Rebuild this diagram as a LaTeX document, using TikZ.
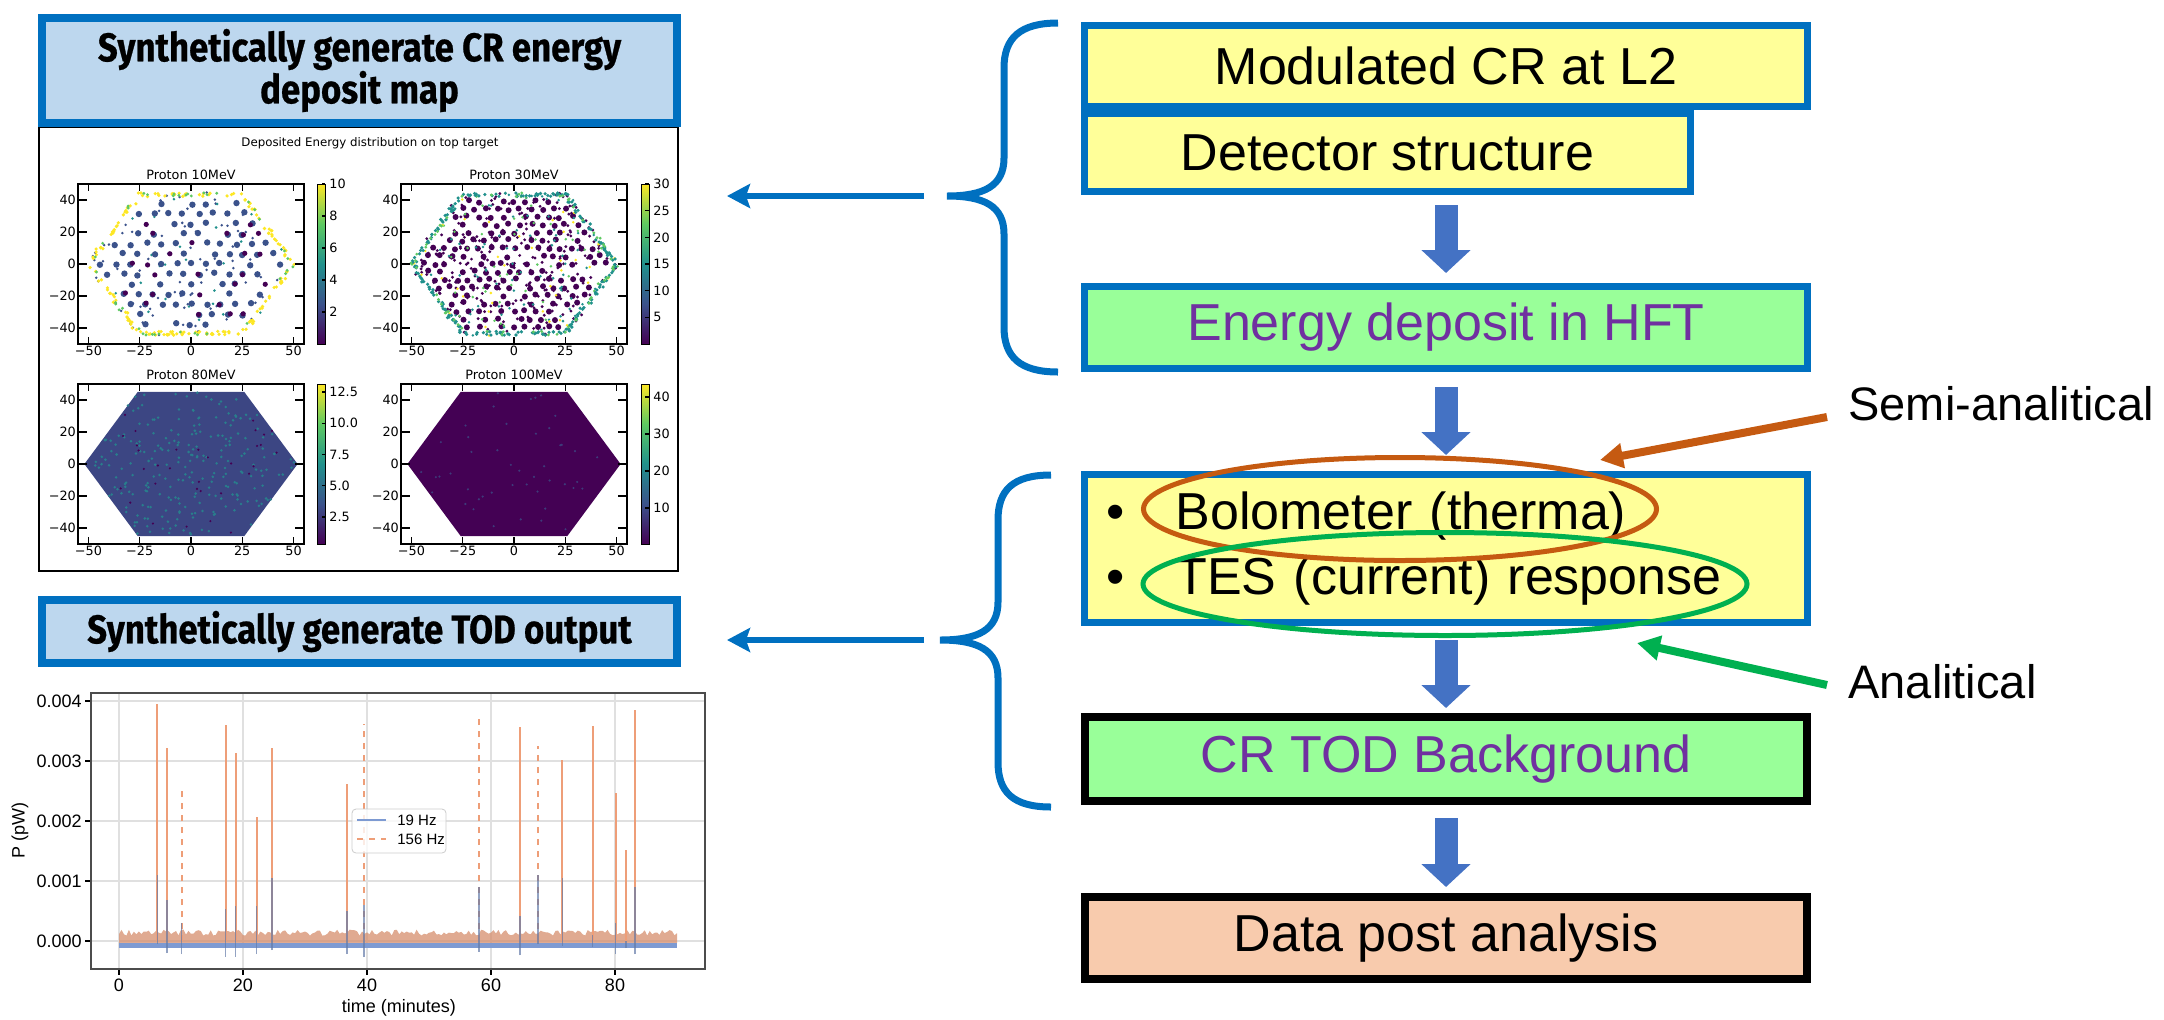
\documentclass[tikz,border=0pt]{standalone}
\usepackage{fontspec}
\setmainfont{Liberation Sans}
\newfontfamily\headfont{Fira Sans}[FakeStretch=0.87, FakeBold=0.6]
\newfontfamily\plotfont{DejaVu Sans}
\usetikzlibrary{arrows.meta, positioning, shapes.geometric, calc}

\definecolor{frameblue}{HTML}{0070C0}
\definecolor{flowblue}{HTML}{4472C4}
\definecolor{boxyellow}{HTML}{FFFF99}
\definecolor{boxgreen}{HTML}{99FF99}
\definecolor{boxpeach}{HTML}{F8CBAD}
\definecolor{labelpurple}{HTML}{7030A0}
\definecolor{semiorange}{HTML}{C55A11}
\definecolor{anagreen}{HTML}{00B050}
\definecolor{titlefill}{HTML}{BDD7EE}
% viridis steps for the maps
\definecolor{vir0}{HTML}{440154}
\definecolor{vir1}{HTML}{3B528B}
\definecolor{vir2}{HTML}{21918C}
\definecolor{vir3}{HTML}{5EC962}
\definecolor{vir4}{HTML}{FDE725}
\definecolor{todblue}{HTML}{7D9AD2}
\definecolor{todorange}{HTML}{EE9E78}

\pgfdeclareverticalshading{viridis}{100bp}{color(0bp)=(vir0); color(25bp)=(vir0);
  color(37.5bp)=(vir1); color(50bp)=(vir2); color(62.5bp)=(vir3); color(75bp)=(vir4); color(100bp)=(vir4)}

% random hits inside the hexagon (count, colour, radius)
\newcommand{\hexdots}[3]{%
  \foreach \k in {1,...,#1}{
    \pgfmathsetmacro\dotx{52*rand}
    \pgfmathsetmacro\doty{45*rand}
    \pgfmathtruncatemacro\inside{abs(\doty)<1.732*(52-abs(\dotx))}
    \ifnum\inside=1 \fill[#2] (\dotx,\doty) circle[radius=#3]; \fi
  }}
% random hits along the hexagon rim
\newcommand{\hexedge}[3]{%
  \foreach \k in {1,...,#1}{
    \pgfmathtruncatemacro\side{random(0,5)}
    \pgfmathsetmacro\along{rnd}
    \pgfmathsetmacro\dotx{(1-\along)*50*cos(60*\side)+\along*50*cos(60*\side+60)+1.2*rand}
    \pgfmathsetmacro\doty{(1-\along)*50*sin(60*\side)+\along*50*sin(60*\side+60)+1.2*rand}
    \fill[#2] (\dotx,\doty) circle[radius=#3];
  }}
% pixel lattice of the focal plane (x step, y step, colour, radius, fill rate)
\newcommand{\hexgrid}[5]{%
  \foreach \i in {-9,...,9}{
    \foreach \j in {-9,...,9}{
      \pgfmathsetmacro\dotx{#1*\i+0.5*#1*mod(abs(\j),2)}
      \pgfmathsetmacro\doty{#2*\j}
      \pgfmathtruncatemacro\inside{(abs(\doty)<43)&&(abs(\doty)<1.732*(49-abs(\dotx)))&&(rnd<#5)}
      \ifnum\inside=1 \fill[#3] (\dotx+0.9*rand,\doty+0.9*rand) circle[radius=#4]; \fi
    }
  }}

\begin{document}
\begin{tikzpicture}[x=0.5pt, y=-0.5pt,
    stagebox/.style={draw=frameblue, line width=3.5pt, fill=boxyellow,
      minimum width=361.5pt, minimum height=40.5pt, inner sep=0pt,
      font=\fontsize{26}{30}\selectfont},
    outbox/.style={stagebox, draw=black, line width=4pt, minimum width=361pt},
    headbox/.style={draw=frameblue, line width=4pt, fill=titlefill, minimum width=317.5pt,
      inner sep=0pt, align=center, font=\headfont\bfseries\fontsize{20}{21}\selectfont},
    flowarrow/.style={draw=flowblue, line width=11.5pt, -{Triangle[width=24pt,length=11.5pt]}},
    pointer/.style={draw=frameblue, line width=3pt, -{Stealth[width=12pt,length=11.5pt,inset=2pt]}},
    bracepath/.style={draw=frameblue, line width=3.5pt},
    ringarrow/.style={line width=4pt, -{Triangle[width=12pt,length=11.5pt]}},
    ring/.style={ellipse, draw, line width=2.5pt, inner sep=0pt},
    sidelabel/.style={font=\fontsize{23.5}{28}\selectfont, anchor=west, inner sep=0pt},
    mpl/.style={font=\plotfont\fontsize{6.4}{7.5}\selectfont, inner sep=1pt},
    tick/.style={line width=0.6pt},
    gridline/.style={draw=black!12, line width=0.8pt},
    todtext/.style={font=\fontsize{9}{10}\selectfont, inner sep=1pt}
  ]
\useasboundingbox (0,0) rectangle (2164,1019);

% --- energy deposit maps ---
\pgfmathsetseed{42}
\draw[line width=1pt] (39,127) rectangle (678,571);
\node[mpl, font=\plotfont\fontsize{5.9}{7}\selectfont] (mapHead) at (370,143) {Deposited Energy distribution on top target};

% Proton 10MeV
\begin{scope}[shift={(191,264)}, x=1.025pt, y=0.8pt]
  \hexdots{110}{vir1}{0.7pt}
  \hexdots{35}{vir2}{0.7pt}
  \hexgrid{7.3}{6.3}{vir1}{1.6pt}{0.72}
  \hexgrid{7.3}{6.3}{vir0}{1.3pt}{0.2}
  \hexedge{170}{vir4}{0.9pt}
  \hexedge{40}{vir3}{0.8pt}
\end{scope}
% Proton 30MeV
\begin{scope}[shift={(514,264)}, x=1.025pt, y=0.8pt]
  \hexdots{300}{vir0}{0.8pt}
  \hexgrid{5.6}{4.9}{vir0}{1.5pt}{0.8}
  \hexdots{110}{vir2}{0.7pt}
  \hexdots{60}{vir3}{0.7pt}
  \hexdots{45}{vir4}{0.7pt}
  \hexedge{220}{vir2}{0.9pt}
  \hexedge{60}{vir3}{0.8pt}
\end{scope}
% Proton 80MeV
\begin{scope}[shift={(191,464)}, x=1.025pt, y=0.8pt]
  \fill[vir1!85!vir0] (0:52) -- (60:52) -- (120:52) -- (180:52) -- (240:52) -- (300:52) -- cycle;
  \hexdots{320}{vir2!70!vir1}{0.7pt}
  \hexdots{40}{vir0}{0.6pt}
\end{scope}
% Proton 100MeV
\begin{scope}[shift={(514,464)}, x=1.025pt, y=0.8pt]
  \fill[vir0] (0:52) -- (60:52) -- (120:52) -- (180:52) -- (240:52) -- (300:52) -- cycle;
  \hexdots{60}{vir1!70!vir0}{0.6pt}
\end{scope}

% axes of the four maps
\foreach \ox/\oy/\ttl in {191/264/Proton 10MeV, 514/264/Proton 30MeV, 191/464/Proton 80MeV, 514/464/Proton 100MeV}{
  \begin{scope}[shift={(\ox,\oy)}, x=1.025pt, y=0.8pt]
    \draw[line width=0.8pt] (-55,-50) rectangle (55,50);
    \foreach \v/\lab in {-50/−50, -25/−25, 0/0, 25/25, 50/50}{
      \draw[tick] (\v,-50) -- (\v,-45.5);
      \draw[tick] (\v,50) -- (\v,45.5);
      \node[mpl, below] at (\v,-50) {\lab};
    }
    \foreach \v/\lab in {-40/−40, -20/−20, 0/0, 20/20, 40/40}{
      \draw[tick] (-55,\v) -- (-50.5,\v);
      \draw[tick] (55,\v) -- (50.5,\v);
      \node[mpl, left] at (-55,\v) {\lab};
    }
    \node[mpl, above=1pt] at (0,50) {\ttl};
  \end{scope}
}

% colour bars
\foreach \cx/\cy in {317/184, 641/184, 317/384, 641/384}{
  \shade[shading=viridis] (\cx,\cy) rectangle ++(8,160);
  \draw[line width=0.5pt] (\cx,\cy) rectangle ++(8,160);
}
\foreach \v in {2,4,...,10}{
  \draw[tick] (322,{344-16*\v}) -- (325,{344-16*\v});
  \node[mpl, anchor=west] at (327,{344-16*\v}) {\v};
}
\foreach \v in {5,10,...,30}{
  \draw[tick] (645,{344-5.333*\v}) -- (649,{344-5.333*\v});
  \node[mpl, anchor=west] at (651,{344-5.333*\v}) {\v};
}
\foreach \v in {2.5,5.0,7.5,10.0,12.5}{
  \draw[tick] (322,{548.25-12.5*\v}) -- (325,{548.25-12.5*\v});
  \node[mpl, anchor=west] at (327,{548.25-12.5*\v}) {\v};
}
\foreach \v in {10,20,30,40}{
  \draw[tick] (645,{545-3.7*\v}) -- (649,{545-3.7*\v});
  \node[mpl, anchor=west] at (651,{545-3.7*\v}) {\v};
}

\node[headbox, minimum height=52.5pt] (mapTitle) at (359.5,70.5) {Synthetically generate CR energy\\deposit map};

% --- TOD output ---
\node[headbox, minimum height=31.5pt] (todTitle) at (359.5,631.5) {Synthetically generate TOD output};

\begin{scope}[shift={(119,941)}, x=3.1pt, y=30pt]
  \foreach \v in {0,...,4}{
    \draw[gridline] (-4.5,\v) -- (94.5,\v);
    \draw[tick] (-4.5,\v) -- ++(-3pt,0pt);
    \node[todtext, left=3.5pt] at (-4.5,\v) {0.00\v};
  }
  \foreach \tm in {0,20,...,80}{
    \draw[gridline] (\tm,-0.47) -- (\tm,4.13);
    \draw[tick] (\tm,-0.47) -- ++(0pt,-3pt);
    \node[todtext, below=3.5pt] at (\tm,-0.47) {\tm};
  }
  % detector noise
  \draw[todblue, line width=2.5pt] (0,-0.07) -- (90,-0.07);
  \fill[todorange!90!black, opacity=0.75] (0,-0.03) \foreach \tm in {0,0.4,...,90}{ -- (\tm,{0.09+0.1*rnd}) } -- (90,-0.03) -- cycle;
  % CR hits
  \foreach \tm/\h/\b/\n/\d in {6.2/3.95/1.1/-0.05/solid, 7.7/3.22/0.68/-0.2/solid, 10.1/2.5/0.3/-0.22/dashed,
      17.2/3.6/0.53/-0.26/solid, 18.8/3.13/0.58/-0.26/solid, 22.2/2.07/0.58/-0.22/solid,
      24.7/3.21/1.05/-0.15/solid, 36.8/2.62/0.5/-0.22/solid, 39.5/3.62/0.6/-0.27/dashed,
      58.1/3.72/0.9/-0.18/dashed, 64.7/3.57/0.42/-0.24/solid, 67.6/3.25/1.1/-0.05/dashed,
      71.5/3.02/1.05/-0.08/solid, 76.4/3.59/0.1/-0.1/solid, 80.1/2.46/0.3/-0.22/solid,
      81.8/1.52/0.0/-0.12/solid, 83.2/3.85/0.9/-0.22/solid}{
    \draw[todorange, line width=1pt, \d] (\tm,0) -- (\tm,\h);
    \draw[todblue!80!black, line width=0.8pt, opacity=0.7] (\tm,\n) -- (\tm,\b);
  }
  \draw[black!70, line width=1pt] (-4.5,-0.47) rectangle (94.5,4.13);
\end{scope}
\node[todtext, rotate=90] (todYlab) at (20,830) {P (pW)};
\node[todtext] (todXlab) at (399,1008) {time (minutes)};

% legend
\draw[rounded corners=2pt, draw=black!20, fill=white, fill opacity=0.8] (352,809) rectangle (446,853);
\draw[todblue, line width=1pt] (357,820) -- (386,820);
\draw[todorange, line width=1pt, dashed] (357,839) -- (386,839);
\node[todtext, font=\fontsize{7.5}{9}\selectfont, anchor=west] (legSlow) at (395,820) {19 Hz};
\node[todtext, font=\fontsize{7.5}{9}\selectfont, anchor=west] (legFast) at (395,839) {156 Hz};

% --- simulation chain ---
\node[stagebox, minimum width=303pt, minimum height=39pt] (det) at (1387.5,152.5) {Detector structure};
\node[stagebox] (mod) at (1446,66) {Modulated CR at L2};
\node[stagebox, fill=boxgreen, text=labelpurple, minimum height=41pt] (dep) at (1446,327.5) {Energy deposit in HFT};
\node[stagebox, minimum height=74pt, text width=339.5pt, inner xsep=11pt, align=left,
      font=\fontsize{26}{32.5}\selectfont] (resp) at (1446,548.5)
      {\makebox[34.5pt][l]{\textbullet}Bolometer (therma)\\\makebox[34.5pt][l]{\textbullet}TES (current) response};
\node[outbox, fill=boxgreen, text=labelpurple, minimum height=42pt] (tod) at (1446,759) {CR TOD Background};
\node[outbox, fill=boxpeach, minimum height=41pt] (post) at (1446,938) {Data post analysis};

\draw[flowarrow, shorten <=5pt, shorten >=5pt] (dep.north |- det.south) -- (dep.north);
\draw[flowarrow, shorten <=7.5pt, shorten >=8pt] (dep.south) -- (resp.north);
\draw[flowarrow, shorten <=7pt, shorten >=2.5pt] (resp.south) -- (tod.north);
\draw[flowarrow, shorten <=6.5pt, shorten >=3pt] (tod.south) -- (post.north);

% model rings
\node[ring, draw=semiorange, minimum width=256.5pt, minimum height=51.5pt] (thermRing) at (1400,509) {};
\node[ring, draw=anagreen, minimum width=302pt, minimum height=51.5pt] (tesRing) at (1445,584) {};

\node[sidelabel] (semiLbl) at (1848,404) {Semi-analitical};
\node[sidelabel] (anaLbl) at (1848,682) {Analitical};
\coordinate (semiTip) at (1600,460);
\coordinate (anaTip) at (1637,643);
\draw[ringarrow, semiorange] ([xshift=-10.5pt,yshift=-6.5pt]semiLbl.west) -- (semiTip);
\draw[ringarrow, anagreen] ([xshift=-10.5pt,yshift=-1.5pt]anaLbl.west) -- (anaTip);

% --- braces back to the outputs ---
\coordinate (braceTipA) at (947,196);
\coordinate (braceTipB) at (940,640);
\coordinate (mapIn) at (727,196);
\coordinate (todIn) at (727,640);
\draw[bracepath] (1058,23) .. controls (1020,23) and (1004,38) .. (1004,68) -- (1004,158)
  .. controls (1004,186) and (984,196) .. (braceTipA) .. controls (984,196) and (1004,206) .. (1004,234)
  -- (1004,327) .. controls (1004,357) and (1020,372) .. (1058,372);
\draw[bracepath] (1051,475) .. controls (1013,475) and (998,490) .. (998,520) -- (998,602)
  .. controls (998,630) and (978,640) .. (braceTipB) .. controls (978,640) and (998,650) .. (998,678)
  -- (998,762) .. controls (998,792) and (1013,807) .. (1051,807);
\draw[pointer] ([xshift=-11.5pt]braceTipA) -- (mapIn);
\draw[pointer] ([xshift=-8pt]braceTipB) -- (todIn);

\end{tikzpicture}
\end{document}
